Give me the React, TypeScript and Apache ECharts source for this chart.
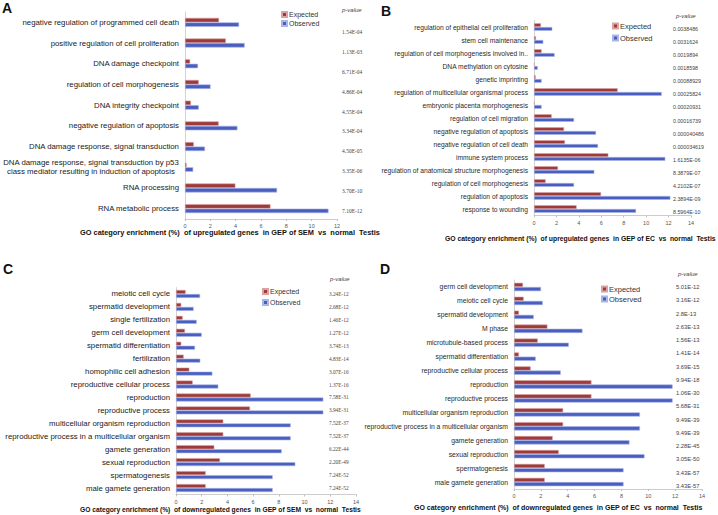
import React, { useEffect, useRef } from "react";
import * as echarts from "echarts";

const catsA = [
  "negative regulation of programmed cell death",
  "positive regulation of cell proliferation",
  "DNA damage checkpoint",
  "regulation of cell morphogenesis",
  "DNA integrity checkpoint",
  "negative regulation of apoptosis",
  "DNA damage response, signal transduction",
  "DNA damage response, signal transduction by p53\nclass mediator resulting in induction of apoptosis",
  "RNA processing",
  "RNA metabolic process",
];
const expA = [2.69, 3.23, 0.41, 1.09, 0.47, 2.66, 0.7, 0.13, 3.98, 6.75];
const obsA = [4.27, 4.71, 1.03, 2.02, 1.09, 4.14, 1.58, 0.65, 7.27, 11.33];
const pA = ["1.54E-04", "1.13E-03", "6.71E-04", "4.86E-04", "4.55E-04", "3.34E-04", "4.50E-05", "3.35E-06", "3.70E-10", "7.10E-12"];

const catsB = [
  "regulation of epithelial cell proliferation",
  "stem cell maintenance",
  "regulation of cell morphogenesis involved in..",
  "DNA methylation on cytosine",
  "genetic imprinting",
  "regulation of multicellular organismal process",
  "embryonic placenta morphogenesis",
  "regulation of cell migration",
  "negative regulation of apoptosis",
  "negative regulation of cell death",
  "immune system process",
  "regulation of anatomical structure morphogenesis",
  "regulation of cell morphogenesis",
  "regulation of apoptosis",
  "response to wounding",
];
const expB = [0.62, 0.18, 0.68, 0.06, 0.15, 7.46, 0.06, 1.58, 2.68, 2.76, 6.63, 2.14, 1.04, 5.98, 3.8];
const obsB = [1.63, 0.83, 1.84, 0.33, 0.68, 11.39, 0.68, 3.57, 5.53, 5.71, 11.71, 5.38, 3.57, 12.16, 9.1];
const pB = ["0.0038486", "0.0031624", "0.0019894", "0.0018598", "0.00088929", "0.00025824", "0.00020931", "0.00016739", "0.000040486", "0.000034619", "1.6135E-06", "8.3879E-07", "4.2102E-07", "2.3894E-09", "8.5964E-10"];

const catsC = [
  "meiotic cell cycle",
  "spermatid development",
  "single fertilization",
  "germ cell development",
  "spermatid differentiation",
  "fertilization",
  "homophilic cell adhesion",
  "reproductive cellular process",
  "reproduction",
  "reproductive process",
  "multicellular organism reproduction",
  "reproductive process in a multicellular organism",
  "gamete generation",
  "sexual reproduction",
  "spermatogenesis",
  "male gamete generation",
];
const expC = [0.75, 0.41, 0.52, 0.7, 0.41, 0.6, 1.04, 1.3, 5.81, 5.76, 3.68, 3.68, 2.98, 3.42, 2.31, 2.31];
const obsC = [1.87, 1.37, 1.61, 2.0, 1.48, 1.89, 2.83, 3.29, 11.46, 11.46, 8.92, 8.92, 8.22, 9.28, 7.52, 7.52];
const pC = ["3.24E-12", "2.68E-12", "1.46E-12", "1.27E-12", "3.74E-13", "4.83E-14", "3.07E-16", "1.37E-16", "7.58E-31", "3.94E-31", "7.52E-37", "7.52E-37", "6.22E-44", "2.20E-49", "7.24E-52", "7.24E-52"];

const catsD = [
  "germ cell development",
  "meiotic cell cycle",
  "spermatid development",
  "M phase",
  "microtubule-based process",
  "spermatid differentiation",
  "reproductive cellular process",
  "reproduction",
  "reproductive process",
  "multicellular organism reproduction",
  "reproductive process in a multicellular organism",
  "gamete generation",
  "sexual reproduction",
  "spermatogenesis",
  "male gamete generation",
];
const expD = [0.67, 0.72, 0.37, 2.49, 1.77, 0.37, 1.24, 5.77, 5.77, 3.66, 3.66, 2.88, 3.33, 2.29, 2.29];
const obsD = [2.01, 2.14, 1.47, 5.1, 4.08, 1.62, 3.48, 11.81, 11.81, 9.38, 9.38, 8.6, 9.72, 8.16, 8.16];
const pD = ["5.01E-12", "3.16E-12", "2.8E-13", "2.63E-13", "1.56E-13", "1.41E-14", "3.69E-15", "9.94E-18", "1.06E-30", "5.68E-31", "9.49E-39", "9.49E-39", "2.28E-45", "3.05E-50", "3.43E-57", "3.43E-57"];

const titleA = "GO category enrichment (%)  of upregulated genes  in GEP of SEM  vs  normal  Testis";
const titleB = "GO category enrichment (%)  of upregulated genes  in GEP of EC  vs  normal  Testis";
const titleC = "GO category enrichment (%)  of downregulated genes  in GEP of SEM  vs  normal  Testis";
const titleD = "GO category enrichment (%)  of downregulated genes  in GEP of EC  vs  normal  Testis";

const SANS = "Liberation Sans, Arial, sans-serif";
const SERIF = "Liberation Serif, Times New Roman, serif";
const RED = "#9e3a39";
const BLUE = "#4a5ec0";

type Panel = {
  cats: string[]; exp: number[]; obs: number[]; pv: string[];
  grid: { left: number; top: number; width: number; height: number };
  pgrid: { left: number; top: number; height: number };
  max: number; labelSize: number; labelColor: string; barW: number;
  pFont: string; pSize: number;
  legend: { left: number; top: number; gap: number; size: number };
};

const panels: Panel[] = [
  {
    cats: catsA, exp: expA, obs: obsA, pv: pA,
    grid: { left: 183, top: 12, width: 154, height: 207 },
    pgrid: { left: 342, top: 22, height: 199 },
    max: 12, labelSize: 7.8, labelColor: "#1a1a1a", barW: 4.5, pFont: SERIF, pSize: 5.5,
    legend: { left: 281, top: 11, gap: 2, size: 7 },
  },
  {
    cats: catsB, exp: expB, obs: obsB, pv: pB,
    grid: { left: 534, top: 20.5, width: 157, height: 195 },
    pgrid: { left: 673, top: 22.5, height: 196 },
    max: 14, labelSize: 6.7, labelColor: "#2a2a2a", barW: 3.8, pFont: SANS, pSize: 5.3,
    legend: { left: 612, top: 22, gap: 4, size: 7.5 },
  },
  {
    cats: catsC, exp: expC, obs: obsC, pv: pC,
    grid: { left: 176, top: 287.5, width: 180, height: 207 },
    pgrid: { left: 329, top: 287.5, height: 207 },
    max: 14, labelSize: 7.8, labelColor: "#1a1a1a", barW: 4, pFont: SERIF, pSize: 5.3,
    legend: { left: 262, top: 288, gap: 4, size: 7 },
  },
  {
    cats: catsD, exp: expD, obs: obsD, pv: pD,
    grid: { left: 514, top: 280, width: 188, height: 209 },
    pgrid: { left: 676, top: 280.4, height: 212 },
    max: 14, labelSize: 6.8, labelColor: "#2a2a2a", barW: 4.2, pFont: SANS, pSize: 5.8,
    legend: { left: 601, top: 285, gap: 2, size: 7.5 },
  },
];

export default function App() {
  const ref = useRef<HTMLDivElement>(null);
  useEffect(() => {
    document.body.style.margin = "0";
    if (!ref.current) return;
    const chart = echarts.init(ref.current, null, { renderer: "svg" });
    const grids: any[] = [];
    const xAxes: any[] = [];
    const yAxes: any[] = [];
    const series: any[] = [];
    const legends: any[] = [];
    panels.forEach((p, i) => {
      grids.push({ ...p.grid, containLabel: false });
      xAxes.push({
        type: "value", gridIndex: i, min: 0, max: p.max, interval: 2,
        axisLine: { show: true, lineStyle: { color: "#bfbfbf", width: 0.8 } },
        axisTick: { show: true, length: 2, lineStyle: { color: "#bfbfbf" } },
        splitLine: { show: false },
        axisLabel: { fontSize: 5.5, color: "#555", margin: 4, fontFamily: SANS },
      });
      const hasMulti = p.cats.some((c) => c.includes("\n"));
      const label: any = {
        fontSize: p.labelSize, color: p.labelColor, margin: 6, fontFamily: SANS, interval: 0,
      };
      if (hasMulti) {
        label.formatter = (v: string) =>
          v.includes("\n") ? v.split("\n").map((l) => "{c|" + l + "}").join("\n") : v;
        label.rich = { c: { align: "center", fontSize: p.labelSize, color: p.labelColor, fontFamily: SANS, lineHeight: 9 } };
      }
      yAxes.push({
        type: "category", gridIndex: i, inverse: true, data: p.cats,
        axisLine: { show: true, lineStyle: { color: "#c8c8c8", width: 0.8 } },
        axisTick: { show: false },
        axisLabel: label,
      });
      series.push({
        type: "bar", name: "Expected", xAxisIndex: i, yAxisIndex: i, data: p.exp,
        barWidth: p.barW, barGap: "0%",
        itemStyle: { color: RED, borderColor: "#d8a3a2", borderWidth: 0.6 },
      });
      series.push({
        type: "bar", name: "Observed", xAxisIndex: i, yAxisIndex: i, data: p.obs,
        barWidth: p.barW, barGap: "0%",
        itemStyle: { color: BLUE, borderColor: "#a9b6e6", borderWidth: 0.6 },
      });
      legends.push({
        data: ["Expected", "Observed"], orient: "vertical",
        left: p.legend.left, top: p.legend.top, itemWidth: 5, itemHeight: 5,
        itemGap: p.legend.gap, icon: "rect", selectedMode: false, padding: 0,
        textStyle: { fontSize: p.legend.size, color: "#333", fontFamily: SANS, padding: [0, 0, 0, -3] },
      });
    });
    panels.forEach((p, i) => {
      const gi = 4 + i;
      grids.push({ left: p.pgrid.left, top: p.pgrid.top, height: p.pgrid.height, width: 20 });
      xAxes.push({ type: "value", gridIndex: gi, show: false });
      yAxes.push({
        type: "category", gridIndex: gi, inverse: true, data: p.pv, position: "left",
        axisLine: { show: false }, axisTick: { show: false }, splitLine: { show: false },
        axisLabel: { inside: true, align: "left", margin: 0, interval: 0, fontSize: p.pSize, color: "#444", fontFamily: p.pFont },
      });
    });
    const txt = (x: number, y: number, text: string, style: any) => ({
      type: "text", x, y, style: { text, fill: "#111", fontFamily: SANS, textVerticalAlign: "top", ...style },
    });
    const graphic = [
      txt(2, 1, "A", { fontSize: 14, fontWeight: "bold" }),
      txt(381, 4, "B", { fontSize: 14, fontWeight: "bold" }),
      txt(3, 262, "C", { fontSize: 14, fontWeight: "bold" }),
      txt(380, 262, "D", { fontSize: 14, fontWeight: "bold" }),
      txt(342, 7, "p-value", { fontSize: 6, fontStyle: "italic", fill: "#444" }),
      txt(676, 13, "p-value", { fontSize: 6, fontStyle: "italic", fill: "#444" }),
      txt(330, 276, "p-value", { fontSize: 6, fontStyle: "italic", fill: "#444" }),
      txt(678, 271, "p-value", { fontSize: 6, fontStyle: "italic", fill: "#444" }),
      txt(80, 229, titleA, { fontSize: 7.4, fontWeight: "bold" }),
      txt(445, 235, titleB, { fontSize: 6.8, fontWeight: "bold" }),
      txt(80, 506, titleC, { fontSize: 6.7, fontWeight: "bold" }),
      txt(414, 504, titleD, { fontSize: 7.0, fontWeight: "bold" }),
    ];
    chart.setOption({
      animation: false,
      backgroundColor: "#ffffff",
      grid: grids, xAxis: xAxes, yAxis: yAxes, series, legend: legends, graphic,
    });
    return () => chart.dispose();
  }, []);
  return <div ref={ref} style={{ width: 718, height: 515 }} />;
}
